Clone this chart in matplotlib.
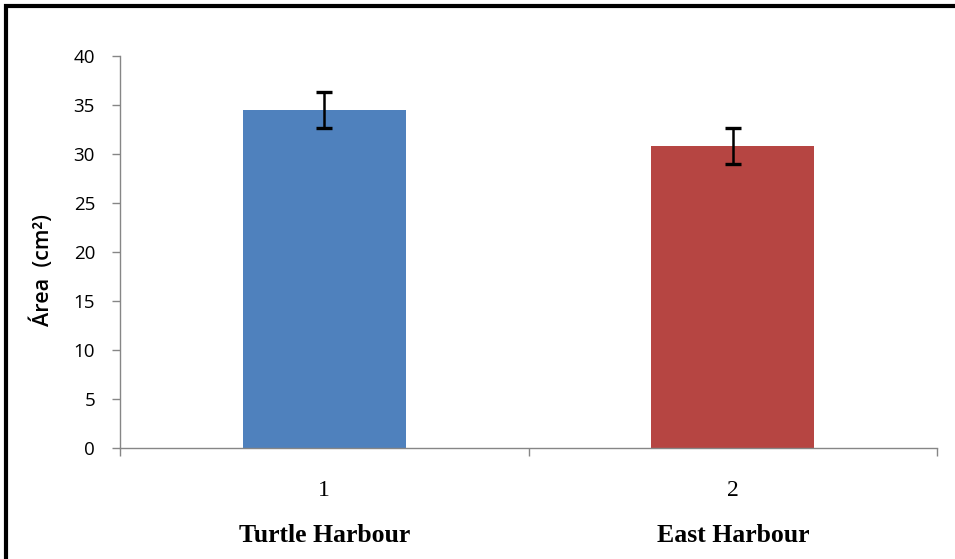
import matplotlib
matplotlib.use("Agg")
import matplotlib.pyplot as plt
from matplotlib.patches import Rectangle
from matplotlib.transforms import blended_transform_factory

sites = ["Turtle Harbour", "East Harbour"]
site_numbers = ["1", "2"]
area_means = [34.5, 30.8]
area_errors = [1.8, 1.85]
bar_colors = ["#4F81BD", "#B64542"]
y_ticks = [0, 5, 10, 15, 20, 25, 30, 35, 40]

fig = plt.figure(figsize=(9.55, 5.59), dpi=100)
ax = fig.add_axes([120/955, 1-448/559, (937-120)/955, (448-56)/559])

x = [0, 1]
ax.bar(x, area_means, width=0.4, color=bar_colors, zorder=2)
ax.errorbar(x, area_means, yerr=area_errors, fmt="none", ecolor="black",
            elinewidth=1.8, capsize=5.5, capthick=2.4, zorder=3)

ax.set_xlim(-0.5, 1.5)
ax.set_ylim(0, 40)
ax.set_yticks(y_ticks)
ax.set_yticklabels([str(v) for v in y_ticks], fontsize=13.5, family="Open Sans")
ax.set_xticks([-0.5, 0.5, 1.5])
ax.set_xticklabels([])

for side in ["top", "right"]:
    ax.spines[side].set_visible(False)
for side in ["left", "bottom"]:
    ax.spines[side].set_color("#868686")
    ax.spines[side].set_linewidth(1.0)
ax.tick_params(axis="both", direction="out", length=6, color="#868686", width=1.0)
ax.tick_params(axis="y", pad=12)

fig.text(42/955, 1-270/559, "Área  (cm²)", rotation=90, ha="center", va="center",
         fontsize=15.5, family="Open Sans", fontweight="semibold")

trans = blended_transform_factory(ax.transData, fig.transFigure)
for xi, num, name in zip(x, site_numbers, sites):
    ax.text(xi, 1-490/559, num, transform=trans, ha="center", va="center",
            fontsize=17, family="Liberation Serif")
    ax.text(xi, 1-536/559, name, transform=trans, ha="center", va="center",
            fontsize=18.5, family="Liberation Serif", fontweight="bold")

border = Rectangle((6/955, -0.05), 1.1, 1-6/559+0.05, transform=fig.transFigure,
                   fill=False, edgecolor="black", linewidth=3, clip_on=False)
fig.patches.append(border)

fig.savefig("out.png", dpi=100)
